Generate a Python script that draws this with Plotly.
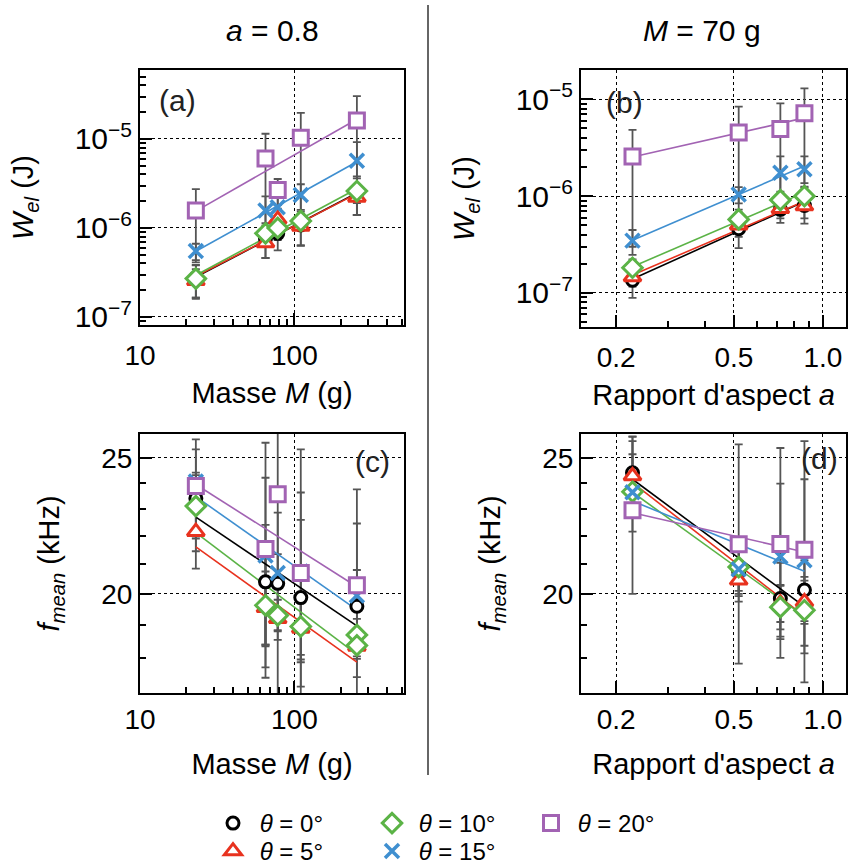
import numpy as np
import plotly.graph_objects as go

W, H = 848, 868

# ---------------- data ----------------
theta_labels = ["θ = 0°", "θ = 5°", "θ = 10°", "θ = 15°", "θ = 20°"]

# Panel (a): W_el vs mass, a = 0.8
mass_a = [23, 65, 78, 110, 254]
wel_a_0 = [2.75e-7, 7.6e-7, 8.7e-7, 1.08e-6, 2.5e-6]
wel_a_5 = [2.55e-7, 6.8e-7, 1.25e-6, 1.04e-6, 2.2e-6]
wel_a_10 = [2.7e-7, 8.7e-7, 1.0e-6, 1.2e-6, 2.6e-6]
wel_a_15 = [5.5e-7, 1.57e-6, 1.71e-6, 2.35e-6, 5.7e-6]
wel_a_20 = [1.57e-6, 6.05e-6, 2.68e-6, 1.03e-5, 1.61e-5]
err_a_0 = [1.1e-7, 3.0e-7, 3.1e-7, 4.5e-7, 1.1e-6]
err_a_5 = [0.9e-7, 2.2e-7, 4.0e-7, 4.0e-7, 0.8e-6]
err_a_10 = [1.1e-7, 2.6e-7, 2.7e-7, 1.5e-7, 1.2e-6]
err_a_15 = [1.15e-7, 0.7e-6, 0.5e-6, 0.75e-6, 3.5e-6]
err_a_20 = [1.16e-6, 5.4e-6, 0.87e-6, 9.3e-6, 1.42e-5]

# Panel (b): W_el vs aspect ratio, M = 70 g
aspect_b = [0.227, 0.519, 0.718, 0.866]
wel_b_0 = [1.35e-7, 4.6e-7, 7.3e-7, 8.0e-7]
wel_b_5 = [1.46e-7, 5.0e-7, 7.4e-7, 7.9e-7]
wel_b_10 = [1.82e-7, 5.75e-7, 9.1e-7, 1.0e-6]
wel_b_15 = [3.47e-7, 1.04e-6, 1.74e-6, 1.9e-6]
wel_b_20 = [2.57e-6, 4.54e-6, 4.95e-6, 7.16e-6]
err_b_0 = [4.6e-8, 1.7e-7, 2.0e-7, 2.8e-7]
err_b_5 = [3e-8, 1.2e-7, 1.5e-7, 2e-7]
err_b_10 = [4e-8, 1.5e-7, 2e-7, 2.5e-7]
err_b_15 = [1.0e-7, 2.0e-7, 0.83e-6, 0.67e-6]
err_b_20 = [2.27e-6, 3.86e-6, 4.15e-6, 5.8e-6]

# Panel (c): f_mean vs mass, a = 0.8
mass_c = [23, 65, 78, 110, 254]
mass_c_10 = [23, 65, 78, 110, 254, 254]
f_c_0 = [23.4, 20.4, 20.35, 19.88, 19.6]
f_c_5 = [22.15, 19.55, 19.2, 18.9, 18.35]
f_c_10 = [23.1, 19.63, 19.31, 18.96, 18.7, 18.38]
f_c_15 = [24.05, 21.3, 20.7, 20.75, 19.95]
f_c_20 = [23.87, 21.53, 23.55, 20.7, 20.29]
err_c_0 = [1.95, 2.0, 1.0, 2.7, 1.2]
err_c_5 = [1.3, 1.2, 0.35, 0.8, 0.3]
err_c_10 = [1.2, 1.9, 0.5, 1.0, 0.5, 0.4]
err_c_15 = [0.35, 2.9, 2.15, 2.87, 2.5]
err_c_20 = [1.9, 4.1, 7.0, 4.65, 3.45]

# Panel (d): f_mean vs aspect ratio, M = 70 g
aspect_d = [0.227, 0.519, 0.718, 0.866]
f_d_0 = [24.4, 20.75, 19.85, 20.13]
f_d_5 = [24.27, 20.45, 19.7, 19.74]
f_d_10 = [23.65, 20.9, 19.57, 19.47]
f_d_15 = [23.63, 20.83, 21.27, 21.14]
f_d_20 = [22.94, 21.7, 21.71, 21.5]
err_d_0 = [1.5, 1.0, 1.2, 1.0]
err_d_5 = [1.43, 0.45, 0.6, 0.7]
err_d_10 = [1.5, 0.8, 0.7, 1.1]
err_d_15 = [0.5, 0.9, 2.7, 3.0]
err_d_20 = [2.94, 3.86, 3.7, 4.2]

# ---------------- styles ----------------
colors = ["#000000", "#e8321e", "#5bb346", "#3f8fd0", "#a263b3"]
symbols = ["circle", "triangle-up", "diamond", "x-thin", "square"]
sizes = [12, 15, 15, 14, 15]
ERR_COLOR = "#555555"
FONT = "Liberation Sans, Arial, sans-serif"

panels = [
    ("x", "y", [mass_a] * 5,
     [wel_a_0, wel_a_5, wel_a_10, wel_a_15, wel_a_20],
     [err_a_0, err_a_5, err_a_10, err_a_15, err_a_20]),
    ("x2", "y2", [aspect_b] * 5,
     [wel_b_0, wel_b_5, wel_b_10, wel_b_15, wel_b_20],
     [err_b_0, err_b_5, err_b_10, err_b_15, err_b_20]),
    ("x3", "y3", [mass_c, mass_c, mass_c_10, mass_c, mass_c],
     [f_c_0, f_c_5, f_c_10, f_c_15, f_c_20],
     [err_c_0, err_c_5, err_c_10, err_c_15, err_c_20]),
    ("x4", "y4", [aspect_d] * 5,
     [f_d_0, f_d_5, f_d_10, f_d_15, f_d_20],
     [err_d_0, err_d_5, err_d_10, err_d_15, err_d_20]),
]

fig = go.Figure()

for pi, (xa, ya, xs, ys, es) in enumerate(panels):
    # error bars first (under everything)
    for k in range(5):
        fig.add_trace(go.Scatter(
            x=xs[k], y=ys[k], xaxis=xa, yaxis=ya, mode="markers",
            marker=dict(size=1, color="rgba(0,0,0,0)"),
            error_y=dict(type="data", array=es[k], color=ERR_COLOR,
                         thickness=1.8, width=4),
            showlegend=False, hoverinfo="skip"))
    # power-law fit lines
    for k in range(5):
        lx = np.log10(xs[k]); ly = np.log10(ys[k])
        p = np.polyfit(lx, ly, 1)
        xe = np.array([min(xs[k]), max(xs[k])])
        ye = 10 ** np.polyval(p, np.log10(xe))
        fig.add_trace(go.Scatter(
            x=xe, y=ye, xaxis=xa, yaxis=ya, mode="lines",
            line=dict(color=colors[k], width=1.6),
            showlegend=False, hoverinfo="skip"))
    # markers
    for k in range(5):
        if symbols[k] == "x-thin":
            mk = dict(symbol="x-thin", size=sizes[k],
                      line=dict(color=colors[k], width=3.5), color=colors[k])
        else:
            mk = dict(symbol=symbols[k], size=sizes[k], color="white",
                      line=dict(color=colors[k], width=3))
        show = pi == 0
        fig.add_trace(go.Scatter(
            x=xs[k], y=ys[k], xaxis=xa, yaxis=ya, mode="markers",
            marker=mk, name="\u00a0<i>θ</i> = " + theta_labels[k].split("= ")[1],
            showlegend=show,
            legend="legend" if k in (0, 2, 4) else "legend2"))


def xd(l, r):
    return [l / W, r / W]


def yd(top, bottom):
    return [1 - bottom / H, 1 - top / H]


common = dict(showline=True, linecolor="black", linewidth=2, mirror=True,
              ticks="inside", ticklen=12, tickwidth=2, tickcolor="black",
              showgrid=True, gridcolor="black", griddash="dot", gridwidth=1.3,
              zeroline=False, automargin=False)
tf28 = dict(tickfont=dict(family=FONT, size=28, color="black"))
tf30 = dict(tickfont=dict(family=FONT, size=30, color="black"))

mass_minor = [20, 30, 40, 50, 60, 70, 80, 90, 200, 300, 400, 500]
asp_minor = [0.3, 0.4, 0.6, 0.7, 0.8, 0.9]
wel_minor = [m * 10.0 ** e for e in (-8, -7, -6, -5) for m in range(2, 10)]
f_minor = [17, 18, 19, 21, 22, 23, 24, 26]
minor_style = dict(ticks="inside", ticklen=6, tickwidth=1.5, tickcolor="black",
                   showgrid=False, tickmode="array")

title_font = dict(family=FONT, size=29, color="black")
mass_title_top = dict(text="Masse <i>M</i> (g)", font=title_font, standoff=13)
asp_title_top = dict(text="Rapport d'aspect <i>a</i>", font=title_font, standoff=13)
mass_title_bot = dict(text="Masse <i>M</i> (g)", font=title_font, standoff=20)
asp_title_bot = dict(text="Rapport d'aspect <i>a</i>", font=title_font, standoff=20)
wel_title = dict(text="<i>W</i><sub><i>el</i></sub> (J)", font=title_font, standoff=33)
f_title = dict(text="<i>f</i><sub><i>mean</i></sub> (kHz)", font=title_font, standoff=33)

wel_ticks = dict(tickmode="array", tickvals=[1e-7, 1e-6, 1e-5],
                 ticktext=["10<sup>−7</sup>", "10<sup>−6</sup>", "10<sup>−5</sup>"])
f_ticks = dict(tickmode="array", tickvals=[20, 25], ticktext=["20", "25"])
mass_ticks = dict(tickmode="array", tickvals=[10, 100], ticktext=["10", "100"])
asp_ticks = dict(tickmode="array", tickvals=[0.2, 0.5, 1.0], ticktext=["0.2", "0.5", "1.0"])

fig.update_layout(
    width=W, height=H, margin=dict(l=0, r=0, t=0, b=0, autoexpand=False),
    paper_bgcolor="white", plot_bgcolor="white",
    font=dict(family=FONT, color="black"),
    xaxis=dict(domain=xd(140, 404), type="log", range=[1, 2.71], anchor="y",
               title=mass_title_top, minor=dict(tickvals=mass_minor, **minor_style),
               ticklabelstandoff=4, **mass_ticks, **common, **tf28),
    yaxis=dict(domain=yd(70, 325), type="log", range=[-7.09, -4.225], anchor="x",
               title=wel_title, minor=dict(tickvals=wel_minor, **minor_style),
               **wel_ticks, **common, **tf30),
    xaxis2=dict(domain=xd(581, 846), type="log", range=[np.log10(0.152), np.log10(1.197)],
                anchor="y2", title=asp_title_top, minor=dict(tickvals=asp_minor, **minor_style),
                ticklabelstandoff=4, **asp_ticks, **common, **tf28),
    yaxis2=dict(domain=yd(70, 327), type="log", range=[-7.352, -4.697], anchor="x2",
                title=wel_title, minor=dict(tickvals=wel_minor, **minor_style),
                **wel_ticks, **common, **tf30),
    xaxis3=dict(domain=xd(140, 404), type="log", range=[1, 2.71], anchor="y3",
                title=mass_title_bot, minor=dict(tickvals=mass_minor, **minor_style),
                ticklabelstandoff=0, **mass_ticks, **common, **tf28),
    yaxis3=dict(domain=yd(434, 693), type="log", range=[np.log10(17), np.log10(26)],
                anchor="x3", title=f_title, minor=dict(tickvals=f_minor, **minor_style),
                **f_ticks, **common, **tf28),
    xaxis4=dict(domain=xd(581, 846), type="log", range=[np.log10(0.152), np.log10(1.197)],
                anchor="y4", title=asp_title_bot, minor=dict(tickvals=asp_minor, **minor_style),
                ticklabelstandoff=0, **asp_ticks, **common, **tf28),
    yaxis4=dict(domain=yd(434, 693), type="log", range=[np.log10(17), np.log10(26)],
                anchor="x4", title=f_title, minor=dict(tickvals=f_minor, **minor_style),
                **f_ticks, **common, **tf28),
    legend=dict(orientation="h", x=213 / W, xanchor="left", y=1 - 801 / H, yanchor="top",
                entrywidth=114, font=dict(family=FONT, size=24, color="black"),
                bgcolor="rgba(0,0,0,0)", itemclick=False, itemdoubleclick=False),
    legend2=dict(orientation="h", x=213 / W, xanchor="left", y=1 - 829 / H, yanchor="top",
                 entrywidth=114, font=dict(family=FONT, size=24, color="black"),
                 bgcolor="rgba(0,0,0,0)", itemclick=False, itemdoubleclick=False),
)

ann_common = dict(xref="paper", yref="paper", showarrow=False,
                  xanchor="center", yanchor="middle")

# Column headers and divider
fig.add_annotation(text="<i>a</i> = 0.8", x=272 / W, y=1 - 31 / H,
                   font=dict(family=FONT, size=30, color="black"), **ann_common)
fig.add_annotation(text="<i>M</i> = 70 g", x=702 / W, y=1 - 31 / H,
                   font=dict(family=FONT, size=30, color="black"), **ann_common)
fig.add_shape(type="line", xref="paper", yref="paper", x0=428 / W, x1=428 / W,
              y0=1 - 775 / H, y1=1 - 5 / H, line=dict(color="#333333", width=1.5))

# Panel labels
for lab, px, py in [("(a)", 177, 100), ("(b)", 624, 103), ("(c)", 372, 461), ("(d)", 819, 459)]:
    fig.add_annotation(text=lab, x=px / W, y=1 - py / H,
                       font=dict(family=FONT, size=30, color="#222222"), **ann_common)

fig.write_html("out.html", config={"displayModeBar": False},
               post_script="document.body.style.margin='0';")
